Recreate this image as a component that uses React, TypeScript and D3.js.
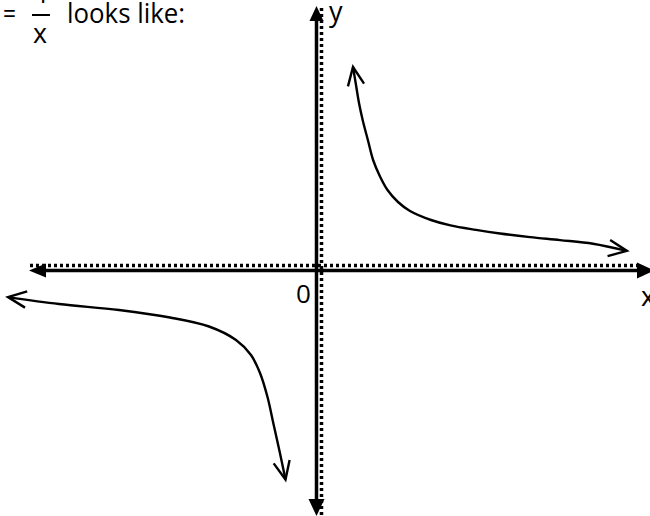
import React from "react";
import * as d3 from "d3";

// Right branch of y = 1/x (1 unit = 30px)
const rightBranchX = [1.2, 1.3, 1.4, 1.53, 1.7, 1.87, 2.1, 2.35, 2.7, 3.1, 3.8, 4.45, 5.3, 6.1, 7.1, 8.1, 9.2, 10.33];
const rightBranchY = [6.7, 6.1, 5.5, 4.9, 4.25, 3.6, 3.05, 2.6, 2.2, 1.9, 1.6, 1.42, 1.27, 1.15, 1.03, 0.93, 0.81, 0.57];

// Left branch
const leftBranchX = [-10.3, -8.6, -6.6, -4.9, -3.6, -2.7, -2.2, -1.9, -1.65, -1.45, -1.25, -1.05];
const leftBranchY = [-0.97, -1.2, -1.4, -1.65, -1.95, -2.4, -2.9, -3.5, -4.3, -5.2, -6.1, -7.05];

// Text labels
const titleEquals = "=";
const titleNumerator = "1";
const titleDenominator = "x";
const titleRest = "looks like:";
const yLabel = "y";
const xLabel = "x";
const originLabel = "0";

const W = 650;
const H = 516;
const OX = 317;
const OY = 268;
const U = 30;

const x = d3.scaleLinear().domain([0, 1]).range([OX, OX + U]);
const y = d3.scaleLinear().domain([0, 1]).range([OY, OY - U]);

function arrowHead(tip: [number, number], from: [number, number], len = 20, spread = 0.42) {
  const ang = Math.atan2(from[1] - tip[1], from[0] - tip[0]);
  const a1: [number, number] = [tip[0] + len * Math.cos(ang + spread), tip[1] + len * Math.sin(ang + spread)];
  const a2: [number, number] = [tip[0] + len * Math.cos(ang - spread), tip[1] + len * Math.sin(ang - spread)];
  return `M${a1[0]},${a1[1]}L${tip[0]},${tip[1]}L${a2[0]},${a2[1]}`;
}

export default function App() {
  const line = d3
    .line<[number, number]>()
    .x((d) => x(d[0]))
    .y((d) => y(d[1]))
    .curve(d3.curveCatmullRom.alpha(0.5));

  const right: [number, number][] = rightBranchX.map((v, i) => [v, rightBranchY[i]]);
  const left: [number, number][] = leftBranchX.map((v, i) => [v, leftBranchY[i]]);

  const px = (p: [number, number]): [number, number] => [x(p[0]), y(p[1])];

  const rTop = px(right[0]);
  const rTop2 = px(right[2]);
  const rEnd = px(right[right.length - 1]);
  const rEnd2 = px(right[right.length - 3]);
  const lStart = px(left[0]);
  const lStart2 = px(left[1]);
  const lEnd = px(left[left.length - 1]);
  const lEnd2 = px(left[left.length - 3]);

  const vSolidX = 316.5;
  const vDotX = 321.5;
  const hDotY = 265.5;
  const hSolidY = 270.5;

  const font = "'Open Sans', 'DejaVu Sans', sans-serif";

  return (
    <svg
      width={W}
      height={H}
      style={{ position: "absolute", left: 0, top: 0, background: "#fff" }}
    >
      <rect width={W} height={H} fill="#fff" />
      {/* title */}
      <text x={3} y={23} fontFamily={font} fontSize={28} fill="#000" textLength={13} lengthAdjust="spacingAndGlyphs">{titleEquals}</text>
      <text x={35} y={3} fontFamily={font} fontSize={26} fill="#000">{titleNumerator}</text>
      <line x1={32} x2={50} y1={15} y2={15} stroke="#000" strokeWidth={2} />
      <text x={33} y={43} fontFamily={font} fontSize={27} fill="#000" textLength={14} lengthAdjust="spacingAndGlyphs">{titleDenominator}</text>
      <text x={67} y={23} fontFamily={font} fontSize={28} fill="#000" textLength={118} lengthAdjust="spacingAndGlyphs">{titleRest}</text>

      {/* vertical axis */}
      <line x1={vDotX} x2={vDotX} y1={8} y2={516} stroke="#000" strokeWidth={3.5} strokeDasharray="3 3" />
      <line x1={vSolidX} x2={vSolidX} y1={18} y2={502} stroke="#000" strokeWidth={3.5} />
      <path d={`M${vSolidX},6 L${vSolidX - 7},21 L${vSolidX + 7},21 Z`} fill="#000" />
      <path d={`M${vSolidX},516 L${vSolidX - 8},499 L${vSolidX + 8},499 Z`} fill="#000" />

      {/* horizontal axis */}
      <line x1={30} x2={642} y1={hDotY} y2={hDotY} stroke="#000" strokeWidth={3.5} strokeDasharray="3 3" />
      <line x1={42} x2={640} y1={hSolidY} y2={hSolidY} stroke="#000" strokeWidth={3.5} />
      <path d={`M29,${hSolidY} L46,${hSolidY - 7} L46,${hSolidY + 7} Z`} fill="#000" />
      <path d={`M654,${hSolidY} L637,${hSolidY - 8} L637,${hSolidY + 8} Z`} fill="#000" />

      {/* labels */}
      <text x={329} y={21} fontFamily={font} fontSize={27} fill="#000">{yLabel}</text>
      <text x={296} y={303} fontFamily={font} fontSize={26} fill="#000">{originLabel}</text>
      <text x={641} y={306} fontFamily={font} fontSize={27} fill="#000">{xLabel}</text>

      {/* curves */}
      <path d={line(right) || ""} fill="none" stroke="#000" strokeWidth={2.4} />
      <path d={line(left) || ""} fill="none" stroke="#000" strokeWidth={2.4} />
      <path d={arrowHead(rTop, rTop2)} fill="none" stroke="#000" strokeWidth={2.4} />
      <path d={arrowHead(rEnd, rEnd2)} fill="none" stroke="#000" strokeWidth={2.4} />
      <path d={arrowHead(lStart, lStart2)} fill="none" stroke="#000" strokeWidth={2.4} />
      <path d={arrowHead(lEnd, lEnd2)} fill="none" stroke="#000" strokeWidth={2.4} />
    </svg>
  );
}
